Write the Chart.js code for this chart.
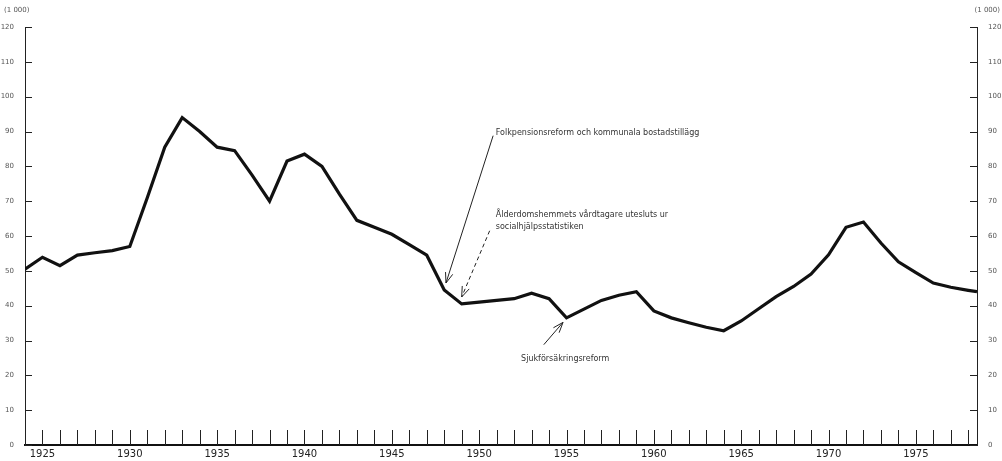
<!DOCTYPE html>
<html>
<head>
<meta charset="utf-8">
<script src="https://cdn.jsdelivr.net/npm/chart.js"></script>
<style>
  html, body { margin: 0; padding: 0; background: #fff; }
  #wrap { width: 1002px; height: 461px; position: relative; }
</style>
</head>
<body>
<div id="wrap"><canvas id="chart"></canvas></div>
<script>
// thousands
const years = [1924, 1925, 1926, 1927, 1928, 1929, 1930, 1931, 1932, 1933, 1934,
  1935, 1936, 1937, 1938, 1939, 1940, 1941, 1942, 1943, 1944, 1945, 1946, 1947,
  1948, 1949, 1950, 1951, 1952, 1953, 1954, 1955, 1956, 1957, 1958, 1959, 1960,
  1961, 1962, 1963, 1964, 1965, 1966, 1967, 1968, 1969, 1970, 1971, 1972, 1973,
  1974, 1975, 1976, 1977, 1978, 1978.5];
const values = [50.5, 53.9, 51.5, 54.5, 55.2, 55.8, 57, 71, 85.5, 94, 90,
  85.5, 84.5, 77.5, 70, 81.5, 83.5, 80, 72, 64.5, 62.5, 60.5, 57.5, 54.5,
  44.5, 40.5, 41, 41.5, 42, 43.6, 42, 36.5, 39, 41.5, 43, 44, 38.5,
  36.5, 35.1, 33.8, 32.8, 35.6, 39.1, 42.6, 45.5, 49.1, 54.6, 62.5, 64, 58,
  52.6, 49.5, 46.5, 45.3, 44.4, 44];

const yTicks = [0, 10, 20, 30, 40, 50, 60, 70, 80, 90, 100, 110, 120];
const tickYears = [];
for (let y = 1925; y <= 1978; y++) tickYears.push(y);
const unitLabel = '(1 000)';

// notes: text lines, text anchor, arrow from -> to (in year/value)
const notes = [
  { lines: ['Folkpensionsreform och kommunala bostadstillägg'], at: [1950.95, 89.6],
    from: [1950.8, 88.8], to: [1948.1, 46.5], dash: [] },
  { lines: ['Ålderdomshemmets vårdtagare utesluts ur', 'socialhjälpsstatistiken'], at: [1950.95, 66],
    from: [1950.6, 61.5], to: [1949.0, 42.5], dash: [4, 3] },
  { lines: ['Sjukförsäkringsreform'], at: [1952.4, 24.8],
    from: [1953.7, 28.8], to: [1954.8, 35.2], dash: [] }
];

const points = years.map((x, i) => ({ x: x, y: values[i] }));

const marks = {
  id: 'marks',
  afterDraw(chart) {
    const ctx = chart.ctx;
    const xs = chart.scales.x, yl = chart.scales.y, yr = chart.scales.y2;
    ctx.save();
    ctx.strokeStyle = '#222';
    ctx.lineWidth = 1;
    // yearly ticks pointing up
    tickYears.forEach(yv => {
      const px = Math.round(xs.getPixelForValue(yv)) + 0.5;
      ctx.beginPath();
      ctx.moveTo(px, yl.bottom);
      ctx.lineTo(px, yl.bottom - 15);
      ctx.stroke();
    });
    // inward ticks on both y axes
    yTicks.forEach(v => {
      const py = Math.round(yl.getPixelForValue(v)) + 0.5;
      ctx.beginPath();
      ctx.moveTo(yl.right, py);
      ctx.lineTo(yl.right + 7, py);
      ctx.moveTo(yr.left, py);
      ctx.lineTo(yr.left - 7, py);
      ctx.stroke();
    });
    // unit labels
    ctx.fillStyle = '#555';
    ctx.font = '7px "DejaVu Sans"';
    ctx.textBaseline = 'middle';
    ctx.textAlign = 'left';
    ctx.fillText(unitLabel, 4, 10);
    ctx.textAlign = 'right';
    ctx.fillText(unitLabel, 1000, 10);
    // notes
    notes.forEach(n => {
      ctx.font = '8px "DejaVu Sans"';
      ctx.fillStyle = '#333';
      ctx.textAlign = 'left';
      const tx = xs.getPixelForValue(n.at[0]);
      const ty = yl.getPixelForValue(n.at[1]);
      n.lines.forEach((t, i) => ctx.fillText(t, tx, ty + i * 12));
      const x1 = xs.getPixelForValue(n.from[0]), y1 = yl.getPixelForValue(n.from[1]);
      const x2 = xs.getPixelForValue(n.to[0]), y2 = yl.getPixelForValue(n.to[1]);
      ctx.strokeStyle = '#222';
      ctx.lineWidth = 1;
      ctx.setLineDash(n.dash);
      ctx.beginPath();
      ctx.moveTo(x1, y1);
      ctx.lineTo(x2, y2);
      ctx.stroke();
      ctx.setLineDash([]);
      const a = Math.atan2(y2 - y1, x2 - x1);
      const h = 11;
      ctx.beginPath();
      ctx.moveTo(x2 - h * Math.cos(a - 0.35), y2 - h * Math.sin(a - 0.35));
      ctx.lineTo(x2, y2);
      ctx.lineTo(x2 - h * Math.cos(a + 0.35), y2 - h * Math.sin(a + 0.35));
      ctx.stroke();
    });
    ctx.restore();
  }
};

new Chart(document.getElementById('chart'), {
  type: 'line',
  data: {
    datasets: [{
      data: points,
      borderColor: '#111',
      borderWidth: 3.2,
      pointRadius: 0,
      tension: 0,
      yAxisID: 'y'
    }]
  },
  options: {
    responsive: true,
    maintainAspectRatio: false,
    animation: false,
    layout: { padding: { top: 27, left: 0, right: 0, bottom: 0 } },
    plugins: { legend: { display: false }, tooltip: { enabled: false } },
    scales: {
      x: {
        type: 'linear',
        min: 1924,
        max: 1978.5,
        afterBuildTicks: s => { s.ticks = tickYears.map(v => ({ value: v })); },
        afterFit: s => { s.height = 16; },
        grid: { display: false, drawTicks: false, tickLength: 0 },
        border: { display: true, color: '#111', width: 2 },
        ticks: {
          autoSkip: false,
          maxRotation: 0,
          padding: 3,
          color: '#222',
          font: { family: 'DejaVu Sans', size: 10 },
          callback: v => (v % 5 === 0 ? String(v) : '')
        }
      },
      y: {
        position: 'left',
        min: 0,
        max: 120,
        afterBuildTicks: s => { s.ticks = yTicks.map(v => ({ value: v })); },
        afterFit: s => { s.width = 25; },
        grid: { display: false },
        border: { display: true, color: '#222', width: 1 },
        ticks: { padding: 3, color: '#555', font: { family: 'DejaVu Sans', size: 7 } }
      },
      y2: {
        position: 'right',
        min: 0,
        max: 120,
        afterBuildTicks: s => { s.ticks = yTicks.map(v => ({ value: v })); },
        afterFit: s => { s.width = 25; },
        grid: { display: false },
        border: { display: true, color: '#222', width: 1 },
        ticks: { padding: 3, color: '#555', font: { family: 'DejaVu Sans', size: 7 } }
      }
    }
  },
  plugins: [marks]
});
</script>
</body>
</html>
